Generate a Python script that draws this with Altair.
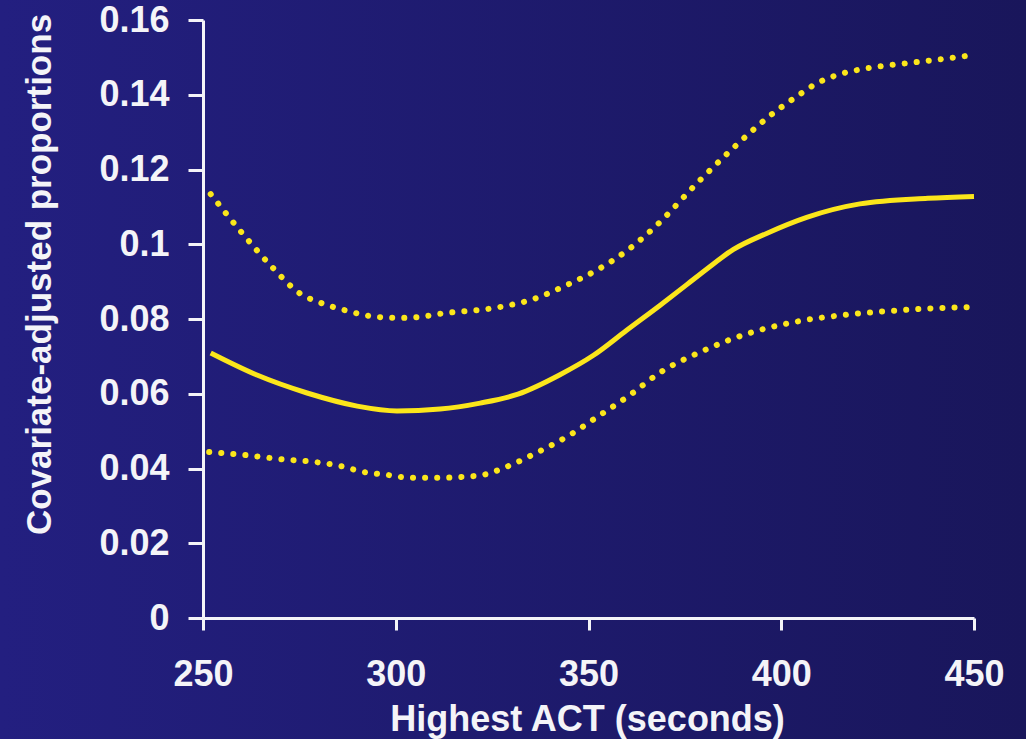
import altair as alt
import pandas as pd

# Main estimate (solid line)
solid_x = [252, 264, 277, 290, 300.3, 311.5, 321.9, 331.7, 342.6, 351.3, 359.9, 368.6,
           375.5, 380.7, 387.6, 396.2, 406.6, 420.4, 438, 450]
solid_y = [0.0709, 0.065, 0.0602, 0.0567, 0.0554, 0.0559, 0.0575, 0.0599, 0.0651, 0.0703,
           0.077, 0.0837, 0.0892, 0.0934, 0.0986, 0.1029, 0.1072, 0.1108, 0.1123, 0.1128]

# Upper confidence bound (dotted)
upper_x = [252, 259.9, 268.2, 274.9, 280.6, 286.6, 295.7, 301.9, 308.1, 311, 327, 335.6,
           344.4, 352.7, 360.5, 367.5, 378.4, 387.2, 396.6, 404.1, 409.3, 415.2, 421.2,
           430.5, 439.9, 449.5]
upper_y = [0.1134, 0.1033, 0.0936, 0.087, 0.0843, 0.0824, 0.0805, 0.0803, 0.0808, 0.0813,
           0.0832, 0.0853, 0.0891, 0.0934, 0.0987, 0.1049, 0.1166, 0.1254, 0.134, 0.1396,
           0.1431, 0.1455, 0.1469, 0.1482, 0.1493, 0.1506]

# Lower confidence bound (dotted)
lower_x = [251.6, 260.9, 270.2, 279.3, 285.5, 291.5, 297.7, 304, 310.2, 316.4, 322.6, 328.6,
           336.9, 345.2, 353, 360.8, 368.3, 379.3, 391, 403, 418.4, 427.7, 440.1, 449.5]
lower_y = [0.0444, 0.0436, 0.0425, 0.0417, 0.0407, 0.0391, 0.0383, 0.0375, 0.0375, 0.0377,
           0.0383, 0.0404, 0.0444, 0.049, 0.0543, 0.0597, 0.0655, 0.0713, 0.076, 0.0791,
           0.0813, 0.0821, 0.0829, 0.0832]

x_ticks = [250, 300, 350, 400, 450]
y_ticks = [0, 0.02, 0.04, 0.06, 0.08, 0.1, 0.12, 0.14, 0.16]

YELLOW = "#fbe61b"
WHITE = "#f4f4f8"
FONT = "Liberation Sans"

W, H = 771, 598
PAD = {"left": 203, "top": 20, "right": 52, "bottom": 121}

solid_df = pd.DataFrame({"x": solid_x, "y": solid_y})
upper_df = pd.DataFrame({"x": upper_x, "y": upper_y})
lower_df = pd.DataFrame({"x": lower_x, "y": lower_y})

x_enc = alt.X(
    "x:Q",
    scale=alt.Scale(domain=[250, 450], nice=False, zero=False),
    axis=alt.Axis(
        values=x_ticks, title="Highest ACT (seconds)", grid=False, zindex=1,
        tickSize=12, labelPadding=55, labelBaseline="alphabetic", format="d",
        labelFlush=False, labelAlign="center",
        titleX=384, titleY=112, titleAlign="center", titleBaseline="alphabetic",
        titleLimit=1000, titleFontSize=36,
    ),
)
y_enc = alt.Y(
    "y:Q",
    scale=alt.Scale(domain=[0, 0.16], nice=False),
    axis=alt.Axis(
        values=y_ticks, title="Covariate-adjusted proportions", grid=False, zindex=1,
        tickSize=15, labelPadding=19, labelExpr="format(datum.value, '.2~f')",
        labelFlush=False, labelBaseline="middle",
        titleAngle=270, titleX=-153, titleY=254, titleAlign="center",
        titleBaseline="alphabetic", titleLimit=1000, titleFontSize=35,
    ),
)

bg = alt.Chart(pd.DataFrame({"a": [0]})).mark_rect(
    color=alt.LinearGradient(
        gradient="linear",
        stops=[alt.GradientStop(color="#231f80", offset=0),
               alt.GradientStop(color="#19165b", offset=1)],
        x1=0, x2=1, y1=0, y2=0,
    )
).encode(
    x=alt.value(-PAD["left"]), x2=alt.value(W + PAD["right"]),
    y=alt.value(-PAD["top"]), y2=alt.value(H + PAD["bottom"]),
)

solid = alt.Chart(solid_df).mark_line(
    color=YELLOW, strokeWidth=5, interpolate="monotone", strokeCap="butt"
).encode(x=x_enc, y=y_enc)

upper = alt.Chart(upper_df).mark_line(
    color=YELLOW, strokeWidth=6, interpolate="monotone", strokeCap="round",
    strokeDash=[0.1, 12],
).encode(x=x_enc, y=y_enc)

lower = alt.Chart(lower_df).mark_line(
    color=YELLOW, strokeWidth=6, interpolate="monotone", strokeCap="round",
    strokeDash=[0.1, 12],
).encode(x=x_enc, y=y_enc)

chart = alt.layer(bg, upper, lower, solid).properties(
    width=W, height=H,
    autosize=alt.AutoSizeParams(type="none"),
    padding=PAD,
    background="#1e1a6e",
).configure_view(stroke=None).configure_axis(
    domainColor=WHITE, domainWidth=3, tickColor=WHITE, tickWidth=3,
    labelColor=WHITE, labelFont=FONT, labelFontWeight="bold", labelFontSize=36,
    titleColor=WHITE, titleFont=FONT, titleFontWeight="bold",
    labelOverlap=False,
)

chart.save("out.html", embed_options={"renderer": "svg", "actions": False})
